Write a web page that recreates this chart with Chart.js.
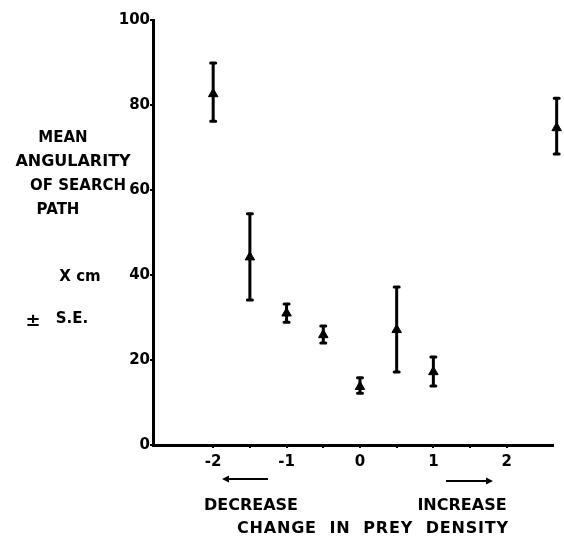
<!DOCTYPE html>
<html>
<head>
<meta charset="utf-8">
<script src="https://cdn.jsdelivr.net/npm/chart.js@4.4.1/dist/chart.umd.min.js"></script>
<style>
    html, body { margin: 0; padding: 0; background: #fff; }
    #wrap { width: 564px; height: 541px; position: relative; }
</style>
</head>
<body>
<div id="wrap"><canvas id="angularityChart"></canvas></div>
<script>
// Change in prey density (x) vs mean angularity of search path (y, +/- S.E.)
const densityChange = [-2, -1.5, -1, -0.5, 0, 0.5, 1, 2.68];
const meanAngularity = [82.6, 44.2, 31.0, 25.9, 13.7, 27.1, 17.2, 74.6];
const seUpper = [89.9, 54.4, 33.2, 28.0, 15.8, 37.2, 20.7, 81.6];
const seLower = [76.2, 34.1, 28.9, 24.0, 12.2, 17.2, 13.9, 68.5];

const xTicks = [-2, -1.5, -1, -0.5, 0, 0.5, 1, 1.5, 2];
const yTicks = [0, 20, 40, 60, 80, 100];

const yTitleLines = ['MEAN', 'ANGULARITY', 'OF SEARCH', 'PATH'];

const FONT = '"DejaVu Sans", sans-serif';

document.addEventListener('DOMContentLoaded', () => {
    const ctx = document.getElementById('angularityChart').getContext('2d');

    // error bars (drawn before the triangles so they sit on top)
    const errorBars = {
        id: 'errorBars',
        beforeDatasetsDraw(chart) {
            const { ctx, scales: { x, y } } = chart;
            ctx.save();
            ctx.strokeStyle = '#000';
            ctx.lineCap = 'round';
            ctx.lineWidth = 3;
            densityChange.forEach((xv, i) => {
                const px = x.getPixelForValue(xv);
                const top = y.getPixelForValue(seUpper[i]);
                const bot = y.getPixelForValue(seLower[i]);
                ctx.beginPath();
                ctx.moveTo(px, top);
                ctx.lineTo(px, bot);
                ctx.moveTo(px - 2.5, top);
                ctx.lineTo(px + 2.5, top);
                ctx.moveTo(px - 2.5, bot);
                ctx.lineTo(px + 2.5, bot);
                ctx.stroke();
            });
            ctx.restore();
        }
    };

    // axis titles, arrows and the "X cm / ± S.E." notes
    const annotations = {
        id: 'annotations',
        afterDraw(chart) {
            const { ctx } = chart;
            ctx.save();
            ctx.fillStyle = '#000';
            ctx.strokeStyle = '#000';
            ctx.textBaseline = 'middle';
            ctx.textAlign = 'center';

            const titleX = [63, 73, 78, 58];
            const titleY = [138, 162, 186, 210];
            yTitleLines.forEach((t, i) => {
                ctx.font = `bold ${t === 'ANGULARITY' ? 16 : 15}px ${FONT}`;
                ctx.fillText(t, titleX[i], titleY[i]);
            });

            ctx.font = `bold 15px ${FONT}`;
            ctx.fillText('X cm', 80, 277);
            ctx.fillText('S.E.', 72, 319);
            ctx.font = `bold 18px ${FONT}`;
            ctx.fillText('±', 33, 321);

            ctx.font = `bold 16px ${FONT}`;
            ctx.fillText('DECREASE', 251, 506);
            ctx.fillText('INCREASE', 462, 506);
            ctx.letterSpacing = '0.8px';
            ctx.fillText('CHANGE  IN  PREY  DENSITY', 373, 529);
            ctx.letterSpacing = '0px';

            // arrows
            ctx.lineWidth = 2;
            ctx.beginPath();
            ctx.moveTo(226, 479);
            ctx.lineTo(268, 479);
            ctx.moveTo(446, 481);
            ctx.lineTo(489, 481);
            ctx.stroke();
            ctx.beginPath();
            ctx.moveTo(222, 479); ctx.lineTo(229, 475.5); ctx.lineTo(229, 482.5); ctx.closePath();
            ctx.moveTo(493, 481); ctx.lineTo(486, 477.5); ctx.lineTo(486, 484.5); ctx.closePath();
            ctx.fill();
            ctx.restore();
        }
    };

    new Chart(ctx, {
        type: 'scatter',
        data: {
            datasets: [{
                data: densityChange.map((xv, i) => ({ x: xv, y: meanAngularity[i] })),
                pointStyle: 'triangle',
                pointRadius: 5.5,
                pointBackgroundColor: '#000',
                pointBorderColor: '#000',
                pointBorderWidth: 1,
                clip: false
            }]
        },
        options: {
            responsive: true,
            maintainAspectRatio: false,
            animation: false,
            layout: {
                padding: { left: 103, top: 20, right: 11, bottom: 66 }
            },
            plugins: {
                legend: { display: false },
                tooltip: { enabled: false }
            },
            scales: {
                x: {
                    type: 'linear',
                    min: -2.82,
                    max: 2.63,
                    afterBuildTicks: (scale) => {
                        scale.ticks = xTicks.map(v => ({ value: v }));
                    },
                    afterFit: (scale) => { scale.height = 30; },
                    border: { display: true, color: '#000', width: 3 },
                    grid: { drawOnChartArea: false, drawTicks: true, tickLength: 3, color: '#000', lineWidth: 2 },
                    ticks: {
                        color: '#000',
                        padding: 5,
                        maxRotation: 0,
                        autoSkip: false,
                        font: { family: FONT, size: 15, weight: 'bold' },
                        callback: (v) => Number.isInteger(v) ? String(v) : ''
                    }
                },
                y: {
                    min: 0,
                    max: 100,
                    afterBuildTicks: (scale) => {
                        scale.ticks = yTicks.map(v => ({ value: v }));
                    },
                    afterFit: (scale) => { scale.width = 50; },
                    border: { display: true, color: '#000', width: 3 },
                    grid: { drawOnChartArea: false, drawTicks: true, tickLength: 3, color: '#000', lineWidth: 2 },
                    ticks: {
                        color: '#000',
                        padding: 0,
                        font: { family: FONT, size: 15, weight: 'bold' }
                    }
                }
            }
        },
        plugins: [errorBars, annotations]
    });
});
</script>
</body>
</html>
